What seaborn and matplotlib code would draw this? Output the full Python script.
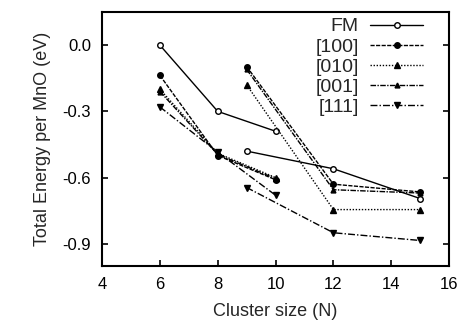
import matplotlib
matplotlib.use("Agg")
import matplotlib.pyplot as plt
import seaborn as sns
import pandas as pd

sns.set_theme(style="white")
plt.rcParams['font.family'] = ['Liberation Sans', 'DejaVu Sans']

# series -> list of segments, each segment = (cluster sizes, energies)
labels = ['FM', '[100]', '[010]', '[001]', '[111]']
fm_seg = [([6, 8, 10], [0.0, -0.30, -0.39]), ([9, 12, 15], [-0.48, -0.56, -0.695])]
x100_seg = [([6, 8, 10], [-0.137, -0.50, -0.61]), ([9, 12, 15], [-0.097, -0.63, -0.665])]
x010_seg = [([6, 8, 10], [-0.20, -0.49, -0.60]), ([9, 12, 15], [-0.18, -0.745, -0.745])]
x001_seg = [([6, 8, 10], [-0.21, -0.495, -0.605]), ([9, 12, 15], [-0.11, -0.655, -0.67])]
x111_seg = [([6, 8, 10], [-0.28, -0.485, -0.68]), ([9, 12, 15], [-0.645, -0.85, -0.885])]
all_segs = [fm_seg, x100_seg, x010_seg, x001_seg, x111_seg]

styles = {
    'FM': dict(marker='o', ms=4, mfc='white', dashes=None),
    '[100]': dict(marker='o', ms=4, mfc='black', dashes=(3, 1)),
    '[010]': dict(marker='^', ms=5, mfc='black', dashes=(1, 1.2)),
    '[001]': dict(marker='^', ms=3.5, mfc='black', dashes=(4, 1, 1, 1)),
    '[111]': dict(marker='v', ms=5, mfc='black', dashes=(5, 1.5, 1, 1.5)),
}

rows = []
for lab, segs in zip(labels, all_segs):
    for k, (xs, ys) in enumerate(segs):
        for x, y in zip(xs, ys):
            rows.append(dict(series=lab, seg=k, N=x, E=y))
df = pd.DataFrame(rows)

fig = plt.figure(figsize=(4.62, 3.27), dpi=100)
ax = fig.add_axes([0.221, 0.187, 0.751, 0.776])

for lab in labels:
    st = styles[lab]
    for k in (0, 1):
        d = df[(df.series == lab) & (df.seg == k)]
        kw = dict(color='black', lw=1.0, marker=st['marker'], markersize=st['ms'],
                  markerfacecolor=st['mfc'], markeredgecolor='black', markeredgewidth=1.0)
        if st['dashes'] is not None:
            kw['dashes'] = st['dashes']
        sns.lineplot(data=d, x='N', y='E', ax=ax, sort=False, estimator=None,
                     label=lab if k == 0 else None, legend=False, **kw)

ax.set_xlim(4, 16)
ax.set_ylim(-1.0, 0.15)
ax.set_xticks([4, 6, 8, 10, 12, 14, 16])
ax.set_yticks([0.0, -0.3, -0.6, -0.9])
ax.set_yticklabels(['0.0', '-0.3', '-0.6', '-0.9'])
ax.tick_params(direction='in', length=4, width=1.2, labelsize=12, colors='black',
               left=True, bottom=True, right=True, top=False, pad=8)
for s in ax.spines.values():
    s.set_linewidth(1.5)
    s.set_color('black')
ax.set_xlabel('Cluster size (N)', fontsize=13, labelpad=8)
ax.set_ylabel('Total Energy per MnO (eV)', fontsize=13, labelpad=8)

ax.legend(loc='upper right', bbox_to_anchor=(0.93, 0.985), frameon=False,
          markerfirst=False, fontsize=14, handlelength=2.7, labelspacing=0.13,
          handletextpad=0.6, borderaxespad=0.1, borderpad=0.0)

fig.savefig('out.png', dpi=100)
